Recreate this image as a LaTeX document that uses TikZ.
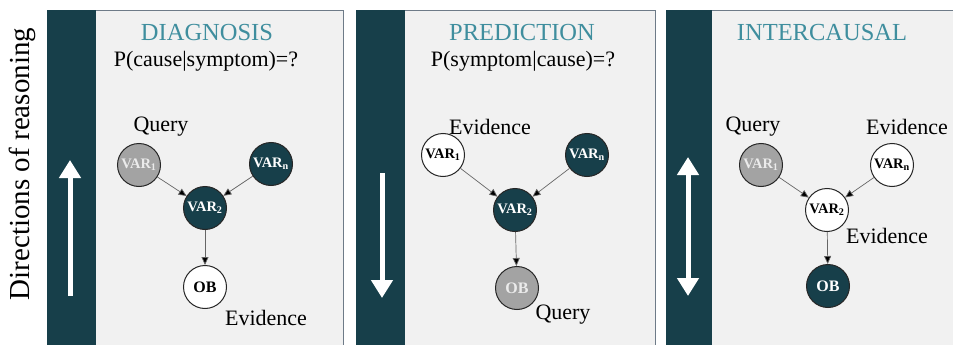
\documentclass[tikz,border=0pt]{standalone}
\usepackage{fontspec}
\setmainfont{Liberation Serif}
\usetikzlibrary{arrows.meta}
\definecolor{darkteal}{HTML}{173F4A}
\definecolor{paneltitle}{HTML}{3F8E9E}
\definecolor{panelbg}{HTML}{F1F1F1}
\definecolor{panelline}{HTML}{6E7B88}
\definecolor{querygray}{HTML}{A3A3A3}
\tikzset{
  panel/.style={fill=panelbg, draw=panelline, line width=0.8pt},
  bar/.style={fill=darkteal, draw=none},
  vnode/.style={circle, draw=black!85, line width=1pt, minimum size=43pt, inner sep=0pt, font=\fontsize{14.5}{14.5}\selectfont\bfseries},
  darknode/.style={vnode, fill=darkteal, text=white},
  graynode/.style={vnode, fill=querygray, text=white!92!black},
  whitenode/.style={vnode, fill=white, text=black},
  obtext/.style={font=\fontsize{16}{16}\selectfont\bfseries},
  edge/.style={draw=black!60, line width=0.7pt, -{Triangle[length=8pt,width=7pt,fill=black]}},
  title/.style={text=paneltitle, font=\fontsize{24.5}{26}\selectfont},
  sub/.style={font=\fontsize{22}{24}\selectfont},
  lbl/.style={font=\fontsize{22}{24}\selectfont},
  bigarrow/.style={draw=white, line width=5pt, -{Triangle[length=18pt,width=21pt]}},
  bigdarrow/.style={draw=white, line width=5pt, {Triangle[length=18pt,width=21pt]}-{Triangle[length=18pt,width=21pt]}},
}
\begin{document}
\begin{tikzpicture}[x=1pt, y=-1pt]
\useasboundingbox (0,0) rectangle (953,345);
\fill[white] (0,0) rectangle (953,345);
% panels
\draw[panel] (47,346) -- (47,10) -- (343,10) -- (343,346);
\fill[bar] (47.4,10.4) rectangle (96,346);
\draw[panel] (356,346) -- (356,10) -- (655,10) -- (655,346);
\fill[bar] (356.4,10.4) rectangle (405,346);
\draw[panel] (666,346) -- (666,10) -- (960,10) -- (960,346);
\fill[bar] (666.4,10.4) rectangle (712,346);
% side label
\node[rotate=90, font=\fontsize{29}{30}\selectfont, anchor=center] (dir) at (22,164) {Directions of reasoning};
% panel 1
\node[title] (t1) at (207,33) {DIAGNOSIS};
\node[sub] (s1) at (206,61) {P(cause|symptom)=?};
\node[graynode] (a1) at (139,165) {VAR\textsubscript{1}};
\node[darknode] (an) at (271,164) {VAR\textsubscript{n}};
\node[darknode] (a2) at (205,208) {VAR\textsubscript{2}};
\node[whitenode, obtext] (ao) at (205,287) {OB};
\node[lbl] (aq) at (161,127) {Query};
\node[lbl] (ae) at (266,318) {Evidence};
\draw[edge] (a1) -- (a2);
\draw[edge] (an) -- (a2);
\draw[edge] (a2) -- (ao);
\coordinate (u1s) at (70,296);
\coordinate (u1e) at (70,160);
\draw[bigarrow] (u1s) -- (u1e);
% panel 2
\node[title] (t2) at (522,33) {PREDICTION};
\node[sub] (s2) at (523,61) {P(symptom|cause)=?};
\node[whitenode] (b1) at (443,155) {VAR\textsubscript{1}};
\node[darknode] (bn) at (587,155) {VAR\textsubscript{n}};
\node[darknode] (b2) at (515,210) {VAR\textsubscript{2}};
\node[graynode, obtext] (bo) at (517,288) {OB};
\node[lbl] (be) at (490,127) {Evidence};
\node[lbl] (bq) at (563,315) {Query};
\draw[edge] (b1) -- (b2);
\draw[edge] (bn) -- (b2);
\draw[edge] (b2) -- (bo);
\coordinate (u2s) at (382,173);
\coordinate (u2e) at (382,298);
\draw[bigarrow] (u2s) -- (u2e);
% panel 3
\node[title] (t3) at (822,33) {INTERCAUSAL};
\node[graynode] (c1) at (761,165) {VAR\textsubscript{1}};
\node[whitenode] (cn) at (892,165) {VAR\textsubscript{n}};
\node[whitenode] (c2) at (827,210) {VAR\textsubscript{2}};
\node[darknode, obtext] (co) at (828,286) {OB};
\node[lbl] (cq) at (753,127) {Query};
\node[lbl] (ce) at (907,127) {Evidence};
\node[lbl] (ce2) at (887,236) {Evidence};
\draw[edge] (c1) -- (c2);
\draw[edge] (cn) -- (c2);
\draw[edge] (c2) -- (co);
\coordinate (u3s) at (688,157);
\coordinate (u3e) at (688,296);
\draw[bigdarrow] (u3s) -- (u3e);
\end{tikzpicture}
\end{document}
